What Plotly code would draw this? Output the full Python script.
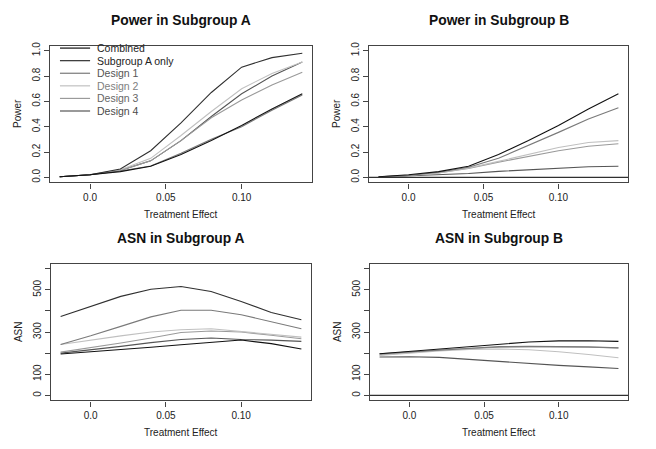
import plotly.graph_objects as go

# ---------------- data ----------------
effect = [-0.02, 0.0, 0.02, 0.04, 0.06, 0.08, 0.10, 0.12, 0.14]
series_names = ["Combined", "Subgroup A only", "Design 1", "Design 2", "Design 3", "Design 4"]

power_a_combined = [0.005, 0.02, 0.045, 0.087, 0.18, 0.29, 0.41, 0.54, 0.66]
power_a_suba = [0.005, 0.02, 0.066, 0.21, 0.43, 0.67, 0.87, 0.945, 0.98]
power_a_d1 = [0.005, 0.02, 0.05, 0.09, 0.19, 0.30, 0.40, 0.53, 0.65]
power_a_d2 = [0.005, 0.022, 0.06, 0.15, 0.33, 0.52, 0.70, 0.82, 0.91]
power_a_d3 = [0.005, 0.02, 0.055, 0.13, 0.29, 0.47, 0.61, 0.73, 0.83]
power_a_d4 = [0.005, 0.02, 0.055, 0.13, 0.29, 0.48, 0.66, 0.80, 0.91]

power_b_combined = [0.005, 0.02, 0.045, 0.087, 0.18, 0.29, 0.41, 0.54, 0.66]
power_b_suba = 0.0
power_b_d1 = [0.004, 0.015, 0.04, 0.08, 0.15, 0.25, 0.355, 0.46, 0.55]
power_b_d2 = [0.004, 0.015, 0.035, 0.074, 0.126, 0.18, 0.235, 0.275, 0.29]
power_b_d3 = [0.004, 0.015, 0.035, 0.07, 0.12, 0.165, 0.21, 0.245, 0.265]
power_b_d4 = [0.003, 0.01, 0.02, 0.03, 0.047, 0.06, 0.074, 0.083, 0.087]

asn_a_combined = [196, 206, 216, 228, 240, 252, 262, 245, 220]
asn_a_suba = [374, 421, 469, 503, 516, 492, 445, 393, 358]
asn_a_d1 = [241, 282, 327, 372, 403, 403, 382, 350, 316]
asn_a_d2 = [241, 262, 282, 300, 311, 316, 303, 290, 276]
asn_a_d3 = [205, 225, 248, 272, 298, 305, 300, 285, 268]
asn_a_d4 = [200, 215, 232, 250, 265, 272, 265, 262, 256]

asn_b_combined = [197, 208, 220, 232, 243, 253, 258, 259, 256]
asn_b_suba = 0.0
asn_b_d1 = [197, 206, 215, 224, 231, 233, 233, 230, 225]
asn_b_d2 = [189, 200, 210, 218, 220, 216, 207, 194, 178]
asn_b_d3 = [192, 204, 214, 222, 228, 230, 230, 228, 225]
asn_b_d4 = [182, 183, 180, 170, 160, 151, 142, 135, 127]

x_tickvals = [0.0, 0.05, 0.10]
x_ticktext = ["0.0", "0.05", "0.10"]
power_tickvals = [0.0, 0.2, 0.4, 0.6, 0.8, 1.0]
power_ticktext = ["0.0", "0.2", "0.4", "0.6", "0.8", "1.0"]
asn_tickvals = [0, 100, 200, 300, 400, 500, 600]
asn_ticktext = ["0", "100", "", "300", "", "500", ""]

titles = ["Power in Subgroup A", "Power in Subgroup B", "ASN in Subgroup A", "ASN in Subgroup B"]

# ---------------- styling ----------------
W, H = 656, 449
colors = {"Combined": "#111111", "Subgroup A only": "#303030", "Design 1": "#7a7a7a",
          "Design 2": "#c0c0c0", "Design 3": "#9a9a9a", "Design 4": "#555555"}
text_colors = {"Combined": "#222222", "Subgroup A only": "#222222", "Design 1": "#555555",
               "Design 2": "#808080", "Design 3": "#666666", "Design 4": "#4a4a4a"}
FONT = "Liberation Sans, Arial, sans-serif"


def px(x):
    return x / W


def py(y):
    return 1 - y / H


# boxes in pixels: (left, right, top, bottom)
boxes = [(50, 312, 42, 180), (369, 628, 42, 180), (51, 311, 262, 400), (370, 628, 262, 400)]

fig = go.Figure()

panels = [
    ("x", "y", [power_a_combined, power_a_suba, power_a_d1, power_a_d2, power_a_d3, power_a_d4]),
    ("x2", "y2", [power_b_combined, None, power_b_d1, power_b_d2, power_b_d3, power_b_d4]),
    ("x3", "y3", [asn_a_combined, asn_a_suba, asn_a_d1, asn_a_d2, asn_a_d3, asn_a_d4]),
    ("x4", "y4", [asn_b_combined, None, asn_b_d1, asn_b_d2, asn_b_d3, asn_b_d4]),
]

draw_order = ["Design 4", "Design 3", "Design 2", "Design 1", "Subgroup A only", "Combined"]
for xa, ya, data in panels:
    d = dict(zip(series_names, data))
    for name in draw_order:
        vals = d[name]
        if vals is None:
            continue
        fig.add_trace(go.Scatter(x=effect, y=vals, mode="lines", name=name, showlegend=False,
                                 line=dict(color=colors[name], width=1.1), xaxis=xa, yaxis=ya,
                                 hoverinfo="skip"))

# subgroup-A-only design has zero power / ASN in subgroup B
for xr, yr, val in [("x2 domain", "y2", power_b_suba), ("x4 domain", "y4", asn_b_suba)]:
    fig.add_shape(type="line", xref=xr, yref=yr, x0=0, x1=1, y0=val, y1=val,
                  line=dict(color=colors["Subgroup A only"], width=1.2))

layout = dict(width=W, height=H, margin=dict(l=0, r=0, t=0, b=0), paper_bgcolor="white",
              plot_bgcolor="white", showlegend=False, font=dict(family=FONT, color="#222222"))

axis_common = dict(showgrid=False, zeroline=False, showline=True, mirror=True, linecolor="#444444",
                   linewidth=1.3, ticks="outside", ticklen=5, tickcolor="#444444", tickwidth=1,
                   tickfont=dict(size=10, color="#222222", family=FONT))

for i, (l, r, t, b) in enumerate(boxes):
    sfx = "" if i == 0 else str(i + 1)
    layout["xaxis" + sfx] = dict(axis_common, domain=[px(l), px(r)], range=[-0.0264, 0.1464],
                                 tickvals=x_tickvals, ticktext=x_ticktext,
                                 anchor="y" + sfx)
    if i < 2:
        yextra = dict(range=[-0.04, 1.04], tickvals=power_tickvals, ticktext=power_ticktext)
    else:
        yextra = dict(range=[-24, 624], tickvals=asn_tickvals, ticktext=asn_ticktext)
    layout["yaxis" + sfx] = dict(axis_common, domain=[py(b), py(t)], tickangle=-90,
                                 anchor="x" + sfx, **yextra)

fig.update_layout(**layout)

# titles and axis labels
for i, (l, r, t, b) in enumerate(boxes):
    fig.add_annotation(text="<b>" + titles[i] + "</b>", x=px((l + r) / 2), y=py(t - 25),
                       xref="paper", yref="paper", showarrow=False,
                       font=dict(size=13.8, color="#111111", family=FONT), xanchor="center", yanchor="middle")
    fig.add_annotation(text="Treatment Effect", x=px((l + r) / 2), y=py(b + 32),
                       xref="paper", yref="paper", showarrow=False,
                       font=dict(size=10, color="#222222", family=FONT), xanchor="center", yanchor="middle")
    ylab = "Power" if i < 2 else "ASN"
    fig.add_annotation(text=ylab, x=px(l - 33), y=py((t + b) / 2), textangle=-90,
                       xref="paper", yref="paper", showarrow=False,
                       font=dict(size=10, color="#222222", family=FONT), xanchor="center", yanchor="middle")

# legend (inside first panel)
leg_rows = [0.982, 0.890, 0.798, 0.706, 0.614, 0.522]
for name, yy in zip(series_names, leg_rows):
    fig.add_shape(type="line", xref="x domain", yref="y domain", x0=0.038, x1=0.153, y0=yy, y1=yy,
                  line=dict(color=colors[name], width=1.2))
    fig.add_annotation(text=name, xref="x domain", yref="y domain", x=0.172, y=yy, showarrow=False,
                       xanchor="left", yanchor="middle",
                       font=dict(size=10.5, color=text_colors[name], family=FONT))

fig.write_html("out.html", config={"displayModeBar": False},
               post_script="document.body.style.margin='0px';document.body.style.overflow='hidden';")
